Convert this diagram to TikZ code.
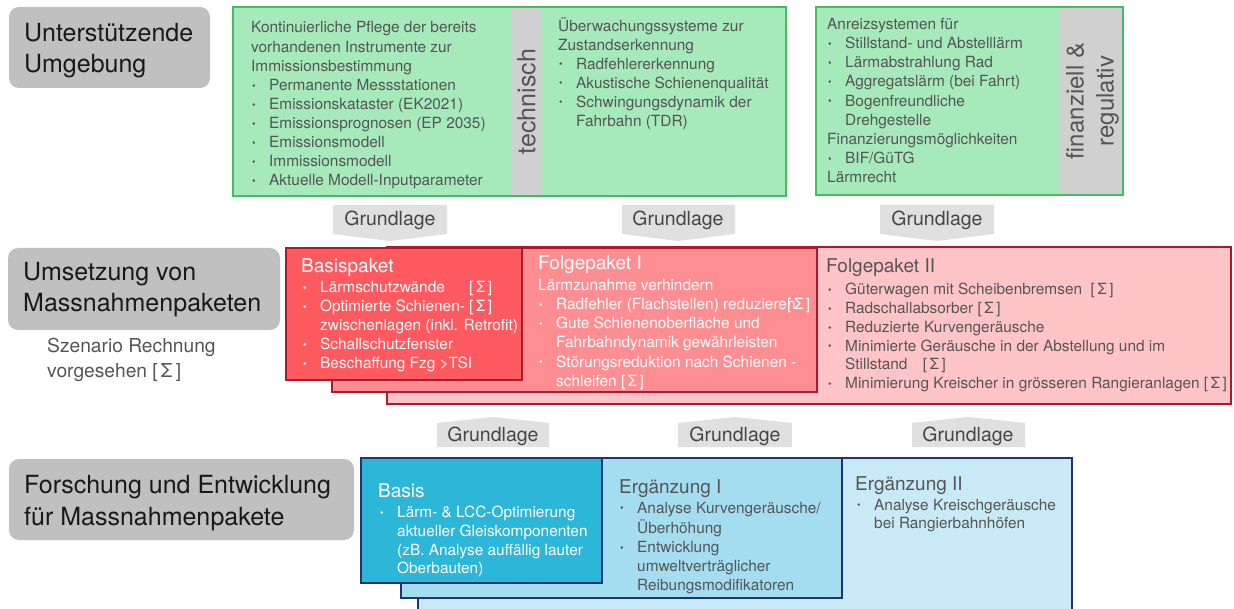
\documentclass[tikz,border=0pt]{standalone}
\usepackage{fontspec}
\setmainfont{TeX Gyre Heros}
\definecolor{gfill}{RGB}{166,234,188}
\definecolor{gline}{RGB}{64,190,96}
\definecolor{stripgray}{RGB}{208,208,208}
\definecolor{lblgray}{RGB}{192,192,192}
\definecolor{arrgray}{RGB}{224,224,224}
\definecolor{redA}{RGB}{255,90,96}
\definecolor{redB}{RGB}{255,142,146}
\definecolor{redC}{RGB}{255,196,199}
\definecolor{redline}{RGB}{175,25,45}
\definecolor{blueA}{RGB}{44,182,216}
\definecolor{blueB}{RGB}{164,220,240}
\definecolor{blueC}{RGB}{200,234,246}
\definecolor{blueline}{RGB}{30,52,115}
\definecolor{txtgray}{RGB}{85,85,85}
\definecolor{lbltxt}{RGB}{25,25,25}
\newcommand{\bu}[1]{\makebox[18pt][l]{\hspace{1pt}\raisebox{1.2pt}{\fontsize{10}{10}\selectfont •}}#1}
\newcommand{\ind}[1]{\hspace*{18pt}#1}
\newcommand{\sig}{[\,Σ\,]}
\tikzset{
  panel/.style={anchor=north west, inner sep=0pt, outer sep=0pt},
  greenbox/.style={panel, fill=gfill},
  greenedge/.style={draw=gline, line width=1.6pt},
  lblbox/.style={panel, fill=lblgray, rounded corners=10pt},
  lbltext/.style={anchor=north west, inner sep=0pt, align=left, text=lbltxt, font=\fontsize{25}{31}\selectfont},
  redbox/.style={panel, draw=redline, line width=1.3pt},
  bluebox/.style={panel, draw=blueline, line width=1.3pt},
  body/.style={anchor=north west, inner sep=0pt, align=left, text=txtgray},
  ttl/.style={anchor=base west, inner sep=0pt, font=\fontsize{19}{19}\selectfont},
  gl/.style={anchor=base, inner sep=0pt, text={rgb,255:red,70;green,70;blue,70}, font=\fontsize{19.5}{19.5}\selectfont},
}
\begin{document}
\begin{tikzpicture}[x=1pt,y=-1pt]
\useasboundingbox (0,0) rectangle (1234,609);
\clip (0,0) rectangle (1234,609);
\fill[white] (0,0) rectangle (1234,609);

% ---------- labels ----------
\node[lblbox, minimum width=201pt, minimum height=81pt] (lblA) at (9,7) {};
\node[lbltext] (lblAt) at (24,19.3) {\strut Unterstützende\\Umgebung};
\node[lblbox, minimum width=272pt, minimum height=82pt] (lblB) at (8,248) {};
\node[lbltext] (lblBt) at (23,258.5) {\strut Umsetzung von\\Massnahmenpaketen};
\node[body, font=\fontsize{19.2}{25}\selectfont] (szen) at (47,335) {\strut Szenario Rechnung\\vorgesehen \sig};
\node[lblbox, minimum width=345pt, minimum height=81pt] (lblC) at (9,459) {};
\node[lbltext, font=\fontsize{25}{32}\selectfont] (lblCt) at (24,470.6) {\strut Forschung und Entwicklung\\für Massnahmenpakete};

% ---------- top row ----------
\node[greenbox, minimum width=553pt, minimum height=189pt] (gA) at (233,7) {};
\node[panel, fill=stripgray, minimum width=31pt, minimum height=189pt] (stripA) at (511,7) {};
\draw[greenedge] (gA.north west) rectangle (gA.south east);
\node[rotate=90, inner sep=0pt, text=txtgray, font=\fontsize{25}{25}\selectfont] (tech) at (stripA.center) {technisch};
\node[body, font=\fontsize{15.4}{19.1}\selectfont] (gAl) at (251,19.4) {\strut Kontinuierliche Pflege der bereits\\
vorhandenen Instrumente zur\\
Immissionsbestimmung\\
\bu{Permanente Messstationen}\\
\bu{Emissionskataster (EK2021)}\\
\bu{Emissionsprognosen (EP 2035)}\\
\bu{Emissionsmodell}\\
\bu{Immissionsmodell}\\
\bu{Aktuelle Modell-Inputparameter}};
\node[body, font=\fontsize{15.4}{19}\selectfont] (gAr) at (558,17) {\strut Überwachungssysteme zur\\
Zustandserkennung\\
\bu{Radfehlererkennung}\\
\bu{Akustische Schienenqualität}\\
\bu{Schwingungsdynamik der}\\
\ind{Fahrbahn (TDR)}};

\node[greenbox, minimum width=307pt, minimum height=188pt] (gB) at (816,7) {};
\node[panel, fill=stripgray, minimum width=63pt, minimum height=188pt] (stripB) at (1060,7) {};
\draw[greenedge] (gB.north west) rectangle (gB.south east);
\node[rotate=90, inner sep=0pt, align=center, text=txtgray, font=\fontsize{24}{30}\selectfont] (fin) at ([xshift=1pt]stripB.center) {finanziell \&\\regulativ};
\node[body, font=\fontsize{15.4}{19.2}\selectfont] (gBt) at (827,15.6) {\strut Anreizsystemen für\\
\bu{Stillstand- und Abstelllärm}\\
\bu{Lärmabstrahlung Rad}\\
\bu{Aggregatslärm (bei Fahrt)}\\
\bu{Bogenfreundliche}\\
\ind{Drehgestelle}\\
Finanzierungsmöglichkeiten\\
\bu{BIF/GüTG}\\
Lärmrecht};

% ---------- Grundlage (top) ----------
\fill[arrgray] (333,205) -- (447,205) -- (447,234) -- (390,241) -- (333,234) -- cycle;
\node[gl] (grA) at (390,226) {Grundlage};
\fill[arrgray] (622,205) -- (735,205) -- (735,234) -- (678,241) -- (622,234) -- cycle;
\node[gl] (grB) at (678,226) {Grundlage};
\fill[arrgray] (880,205) -- (994,205) -- (994,234) -- (937,241) -- (880,234) -- cycle;
\node[gl] (grC) at (937,226) {Grundlage};

% ---------- middle row ----------
\node[redbox, fill=redC, minimum width=844pt, minimum height=157pt] (rC) at (387,247) {};
\node[redbox, fill=redB, minimum width=485pt, minimum height=144pt] (rB) at (332,248) {};
\node[redbox, fill=redA, minimum width=236pt, minimum height=132pt] (rA) at (286,248) {};

\node[ttl, text=white] (rAt) at (301,273) {Basispaket};
\node[body, text=white, font=\fontsize{15.4}{19}\selectfont] (rAb) at (302,279.2) {\strut\bu{\makebox[149pt][l]{Lärmschutzwände}\sig}\\
\bu{\makebox[149pt][l]{Optimierte Schienen-}\sig}\\
\ind{zwischenlagen (inkl. Retrofit)}\\
\bu{Schallschutzfenster}\\
\bu{Beschaffung Fzg \textgreater TSI}};

\node[ttl, text=white] (rBt) at (538,270) {Folgepaket I};
\node[body, text=white, font=\fontsize{15.4}{19.2}\selectfont] (rBb) at (538,276.6) {\strut Lärmzunahme verhindern\\
\bu{\makebox[231pt][l]{Radfehler (Flachstellen) reduzieren}\sig}\\
\bu{Gute Schienenoberfläche und}\\
\ind{Fahrbahndynamik gewährleisten}\\
\bu{Störungsreduktion nach Schienen -}\\
\ind{schleifen \sig}};

\node[ttl, text=txtgray] (rCt) at (826,273) {Folgepaket II};
\node[body, font=\fontsize{15.4}{18.8}\selectfont] (rCb) at (827,281.3) {\strut\bu{Güterwagen mit Scheibenbremsen\ \ \sig}\\
\bu{Radschallabsorber \sig}\\
\bu{Reduzierte Kurvengeräusche}\\
\bu{Minimierte Geräusche in der Abstellung und im}\\
\ind{Stillstand\quad\sig}\\
\bu{Minimierung Kreischer in grösseren Rangieranlagen \sig}};

% ---------- Grundlage (bottom) ----------
\fill[arrgray] (437,423) -- (493,417) -- (549,423) -- (549,447) -- (437,447) -- cycle;
\node[gl] (grD) at (493,441) {Grundlage};
\fill[arrgray] (678,423) -- (735,417) -- (792,423) -- (792,447) -- (678,447) -- cycle;
\node[gl] (grE) at (735,441) {Grundlage};
\fill[arrgray] (912,423) -- (968,417) -- (1025,423) -- (1025,447) -- (912,447) -- cycle;
\node[gl] (grF) at (968,441) {Grundlage};

% ---------- bottom row ----------
\node[bluebox, fill=blueC, minimum width=654pt, minimum height=170pt] (bC) at (418,458) {};
\node[bluebox, fill=blueB, minimum width=441pt, minimum height=140pt] (bB) at (401,458) {};
\node[bluebox, fill=blueA, minimum width=241pt, minimum height=125pt] (bA) at (361,458) {};

\node[ttl, text=white] (bAt) at (378,497) {Basis};
\node[body, text=white, font=\fontsize{15.4}{18.7}\selectfont] (bAb) at (379,504.4) {\strut\bu{Lärm- \& LCC-Optimierung}\\
\ind{aktueller Gleiskomponenten}\\
\ind{(zB. Analyse auffällig lauter}\\
\ind{Oberbauten)}};

\node[ttl, text=txtgray] (bBt) at (619,493) {Ergänzung I};
\node[body, font=\fontsize{15.4}{18.8}\selectfont] (bBb) at (619,499.8) {\strut\bu{Analyse Kurvengeräusche/}\\
\ind{Überhöhung}\\
\bu{Entwicklung}\\
\ind{umweltverträglicher}\\
\ind{Reibungsmodifikatoren}};

\node[ttl, text=txtgray] (bCt) at (855,490) {Ergänzung II};
\node[body, font=\fontsize{15.4}{18.5}\selectfont] (bCb) at (856,497) {\strut\bu{Analyse Kreischgeräusche}\\
\ind{bei Rangierbahnhöfen}};
\end{tikzpicture}
\end{document}
